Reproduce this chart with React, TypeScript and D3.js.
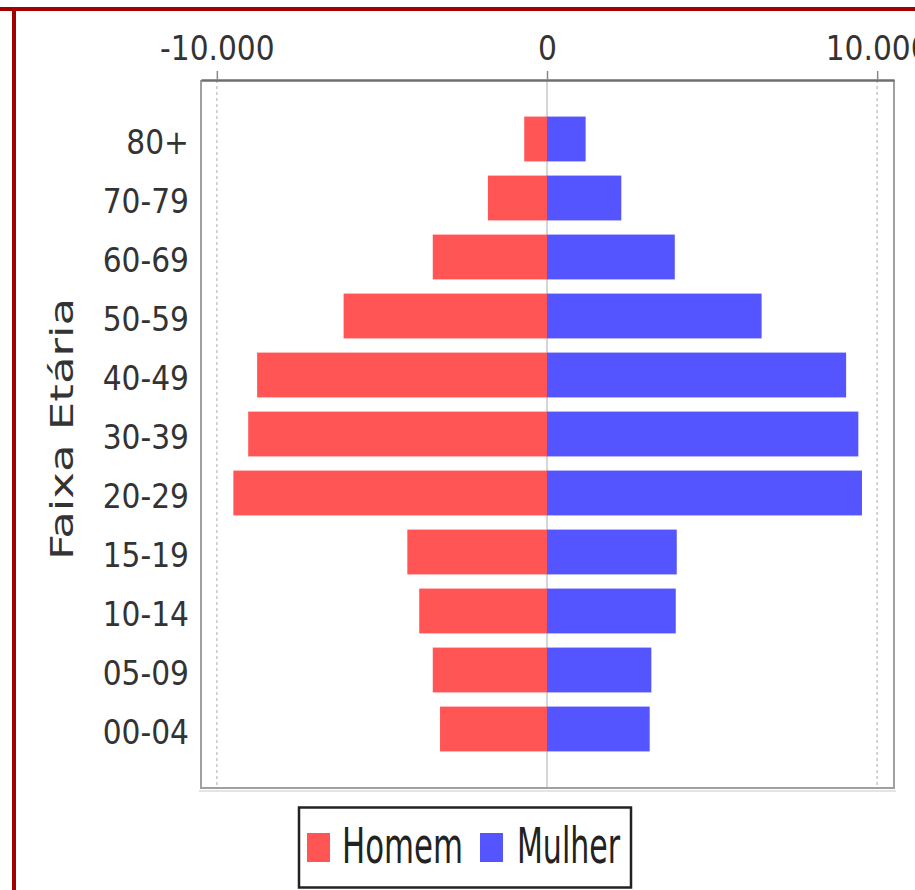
import { useEffect, useRef } from "react";
import * as d3 from "d3";

const categories = ["80+", "70-79", "60-69", "50-59", "40-49", "30-39", "20-29", "15-19", "10-14", "05-09", "00-04"];
const homem = [-690, -1790, -3460, -6160, -8780, -9050, -9500, -4230, -3870, -3460, -3240];
const mulher = [1170, 2250, 3870, 6500, 9060, 9430, 9540, 3930, 3900, 3160, 3110];
const tickValues = [-10000, 0, 10000];
const seriesNames = ["Homem", "Mulher"];
const seriesColors = ["#ff5555", "#5555ff"];

const FONT = "'DejaVu Sans Condensed', 'DejaVu Sans', sans-serif";

export default function App() {
  const svgRef = useRef<SVGSVGElement>(null);

  useEffect(() => {
    document.body.style.margin = "0";
    if (!svgRef.current) return;

    const width = 915;
    const height = 890;
    const plot = { left: 201, right: 894, top: 80, bottom: 788 };

    const svg = d3.select(svgRef.current);
    svg.selectAll("*").remove();
    svg.attr("width", width).attr("height", height).attr("viewBox", `0 0 ${width} ${height}`);

    svg.append("rect").attr("width", width).attr("height", height).attr("fill", "white");

    // dark red frame (top and left edges visible)
    svg.append("rect").attr("x", 0).attr("y", 7).attr("width", width).attr("height", 4).attr("fill", "#a50000");
    svg.append("rect").attr("x", 12).attr("y", 7).attr("width", 4).attr("height", height).attr("fill", "#a50000");

    const x = d3.scaleLinear().domain([-10480, 10510]).range([plot.left, plot.right]);
    const y = d3
      .scaleBand<string>()
      .domain(categories)
      .range([plot.top, plot.bottom])
      .paddingInner(0.24)
      .paddingOuter(0.62);

    const ptBR = d3.formatLocale({
      decimal: ",",
      thousands: ".",
      grouping: [3],
      currency: ["R$", ""],
      minus: "-",
    });
    const fmt = ptBR.format(",d");

    // plot background + gridlines
    svg
      .append("rect")
      .attr("x", plot.left)
      .attr("y", plot.top)
      .attr("width", plot.right - plot.left)
      .attr("height", plot.bottom - plot.top)
      .attr("fill", "white");

    svg
      .append("g")
      .selectAll("line")
      .data(tickValues)
      .enter()
      .append("line")
      .attr("x1", (d) => x(d))
      .attr("x2", (d) => x(d))
      .attr("y1", plot.top)
      .attr("y2", plot.bottom)
      .attr("stroke", "#c8c8c8")
      .attr("stroke-width", 1.5)
      .attr("stroke-dasharray", (d) => (d === 0 ? null : "3,3"));

    // bars
    const series = [homem, mulher];
    series.forEach((vals, si) => {
      svg
        .append("g")
        .selectAll("rect")
        .data(vals)
        .enter()
        .append("rect")
        .attr("x", (d) => x(Math.min(0, d)))
        .attr("width", (d) => Math.abs(x(d) - x(0)))
        .attr("y", (_d, i) => y(categories[i]) as number)
        .attr("height", y.bandwidth())
        .attr("fill", seriesColors[si]);
    });

    // plot outline (left, right, bottom)
    svg
      .append("path")
      .attr("d", `M${plot.left},${plot.top}V${plot.bottom}H${plot.right}V${plot.top}`)
      .attr("fill", "none")
      .attr("stroke", "#a0a0a0")
      .attr("stroke-width", 2);
    svg
      .append("path")
      .attr("d", `M${plot.left - 2},${plot.bottom + 3}H${plot.right + 2}`)
      .attr("stroke", "#e4e4e4")
      .attr("stroke-width", 2);

    // top value axis
    const axis = svg
      .append("g")
      .attr("transform", `translate(0,${plot.top})`)
      .call(
        d3
          .axisTop(x)
          .tickValues(tickValues)
          .tickFormat((d) => fmt(d as number))
          .tickSizeInner(9)
          .tickSizeOuter(0)
          .tickPadding(11),
      );
    axis.select(".domain").attr("stroke", "#6e6e6e").attr("stroke-width", 2.5);
    axis.selectAll(".tick line").attr("stroke", "#888").attr("stroke-width", 1.5);
    axis
      .selectAll(".tick text")
      .attr("fill", "#333")
      .style("font-family", FONT)
      .style("font-size", "33px");

    // category labels
    svg
      .append("g")
      .selectAll("text")
      .data(categories)
      .enter()
      .append("text")
      .attr("x", 189)
      .attr("y", (d) => (y(d) as number) + y.bandwidth() / 2 + 3)
      .attr("text-anchor", "end")
      .attr("dominant-baseline", "central")
      .attr("fill", "#333")
      .style("font-family", FONT)
      .style("font-size", "33px")
      .text((d) => d);

    // axis title
    svg
      .append("text")
      .attr("transform", `translate(73,429) rotate(-90)`)
      .attr("text-anchor", "middle")
      .attr("fill", "#333")
      .attr("textLength", 262)
      .attr("lengthAdjust", "spacingAndGlyphs")
      .style("font-family", FONT)
      .style("font-size", "32px")
      .text("Faixa Etária");

    // legend
    const legend = svg.append("g").attr("class", "legend");
    legend
      .append("rect")
      .attr("x", 299)
      .attr("y", 807.5)
      .attr("width", 332)
      .attr("height", 80)
      .attr("fill", "white")
      .attr("stroke", "#222")
      .attr("stroke-width", 2.5);

    const items = [
      { sx: 307, tx: 342, len: 121 },
      { sx: 480, tx: 517, len: 103 },
    ];
    items.forEach((it, i) => {
      legend
        .append("rect")
        .attr("x", it.sx)
        .attr("y", 833)
        .attr("width", 23)
        .attr("height", 29)
        .attr("fill", seriesColors[i]);
      legend
        .append("text")
        .attr("x", it.tx)
        .attr("y", 863)
        .attr("fill", "#222")
        .attr("textLength", it.len)
        .attr("lengthAdjust", "spacingAndGlyphs")
        .style("font-family", FONT)
        .style("font-size", "50px")
        .text(seriesNames[i]);
    });
  }, []);

  return (
    <div style={{ width: 915, height: 890 }}>
      <svg ref={svgRef} style={{ display: "block" }} />
    </div>
  );
}
